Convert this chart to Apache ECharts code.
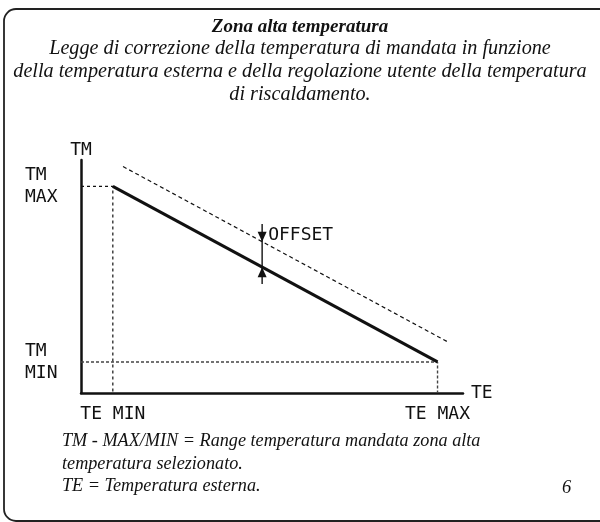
<!DOCTYPE html>
<html>
<head>
<meta charset="utf-8">
<script src="https://cdn.jsdelivr.net/npm/echarts@6/dist/echarts.min.js"></script>
<style>html,body{margin:0;padding:0;background:#fff}#c{width:600px;height:522px}</style>
</head>
<body>
<div id="c"></div>
<script>
// ---- data ----
const teLabels = ['TE MIN', 'TE MAX'];
const teValues = [1, 11.2];
const tmLabels = ['TM\nMAX', 'TM\nMIN'];
const tmValues = [66.5, 10];
const offsetCurve = [[1.32, 72.9], [11.53, 16.4]];
// x, arrow top, arrow bottom, tip on offset curve, tip on main curve
const offsetMarker = [5.69, 54.4, 35.1, 48.7, 40.5];
const offsetLabel = 'OFFSET';
const axisNames = ['TE', 'TM'];
const xRange = [0, 12];
const yRange = [0, 75];

const titleText = 'Zona alta temperatura';
const subText = 'Legge di correzione della temperatura di mandata in funzione\ndella temperatura esterna e della regolazione utente della temperatura\ndi riscaldamento.';
const footText = 'TM - MAX/MIN = Range temperatura mandata zona alta\ntemperatura selezionato.\nTE = Temperatura esterna.';
const pageNo = '6';

// ---- chart ----
const mainCurve = [[teValues[0], tmValues[0]], [teValues[1], tmValues[1]]];
const guideMax = [[xRange[0], tmValues[0]], [teValues[0], tmValues[0]], [teValues[0], yRange[0]]];
const guideMin = [[xRange[0], tmValues[1]], [teValues[1], tmValues[1]], [teValues[1], yRange[0]]];

const sans = 'DejaVu Sans Mono';
const serif = 'Liberation Serif';
const ink = '#111';

const chart = echarts.init(document.getElementById('c'), null, {renderer: 'canvas'});
chart.setOption({
  animation: false,
  backgroundColor: '#fff',
  title: {
    text: titleText,
    subtext: subText,
    left: 'center',
    top: 13,
    itemGap: 0,
    textStyle: {fontFamily: serif, fontStyle: 'italic', fontWeight: 'bold', fontSize: 19, color: ink},
    subtextStyle: {fontFamily: serif, fontStyle: 'italic', fontSize: 20.2, lineHeight: 23, color: ink, align: 'center'}
  },
  grid: {left: 81, right: 137, top: 160, bottom: 129, containLabel: false},
  xAxis: {
    type: 'value', min: xRange[0], max: xRange[1],
    name: axisNames[0], nameLocation: 'end', nameGap: 8,
    nameTextStyle: {fontFamily: sans, fontSize: 18, color: ink, verticalAlign: 'middle'},
    axisLine: {show: true, lineStyle: {color: ink, width: 2.5}},
    axisTick: {show: false},
    splitLine: {show: false},
    axisLabel: {
      customValues: teValues,
      formatter: v => teLabels[teValues.indexOf(v)],
      margin: 12, fontFamily: sans, fontSize: 18, color: ink
    }
  },
  yAxis: {
    type: 'value', min: yRange[0], max: yRange[1],
    name: axisNames[1], nameLocation: 'end', nameGap: 1,
    nameTextStyle: {fontFamily: sans, fontSize: 18, color: ink, align: 'center'},
    axisLine: {show: true, lineStyle: {color: ink, width: 2.5}},
    axisTick: {show: false},
    splitLine: {show: false},
    axisLabel: {
      customValues: tmValues,
      formatter: v => tmLabels[tmValues.indexOf(v)],
      align: 'left', margin: 56, lineHeight: 22,
      fontFamily: sans, fontSize: 18, color: ink
    }
  },
  series: [
    {type: 'line', data: guideMax, symbol: 'none', silent: true,
     lineStyle: {color: ink, width: 1.2, type: [3, 3]}},
    {type: 'line', data: guideMin, symbol: 'none', silent: true,
     lineStyle: {color: '#444', width: 1.4, type: [3, 2]}},
    {type: 'line', data: offsetCurve, symbol: 'none', silent: true,
     lineStyle: {color: ink, width: 1.2, type: [4, 3]}},
    {type: 'line', data: mainCurve, symbol: 'none', silent: true,
     lineStyle: {color: ink, width: 3}},
    {type: 'custom', silent: true, clip: false,
     data: [offsetMarker],
     renderItem: function (params, api) {
       const top = api.coord([api.value(0), api.value(1)]);
       const bot = api.coord([api.value(0), api.value(2)]);
       const tipDown = api.coord([api.value(0), api.value(3)]);
       const tipUp = api.coord([api.value(0), api.value(4)]);
       const hw = 4.5, hh = 10;
       return {type: 'group', children: [
         {type: 'line', shape: {x1: top[0], y1: top[1], x2: bot[0], y2: bot[1]},
          style: {stroke: ink, lineWidth: 1.4}},
         {type: 'polygon', shape: {points: [[tipDown[0], tipDown[1]], [tipDown[0] - hw, tipDown[1] - hh], [tipDown[0] + hw, tipDown[1] - hh]]},
          style: {fill: ink}},
         {type: 'polygon', shape: {points: [[tipUp[0], tipUp[1]], [tipUp[0] - hw, tipUp[1] + hh], [tipUp[0] + hw, tipUp[1] + hh]]},
          style: {fill: ink}},
         {type: 'text', x: top[0] + 6, y: (top[1] + tipDown[1]) / 2 + 2,
          style: {text: offsetLabel, fontFamily: sans, fontSize: 18, fill: ink, verticalAlign: 'middle', align: 'left'}}
       ]};
     }}
  ],
  graphic: [
    {type: 'rect', shape: {x: 4, y: 9, width: 700, height: 512, r: 12},
     style: {fill: 'none', stroke: '#222', lineWidth: 1.8}, silent: true, z: 100},
    {type: 'text', left: 62, top: 430,
     style: {text: footText, fontFamily: serif, fontStyle: 'italic', fontSize: 18.2, lineHeight: 22.5, fill: ink}},
    {type: 'text', left: 562, top: 479,
     style: {text: pageNo, fontFamily: serif, fontStyle: 'italic', fontSize: 18.5, fill: ink}}
  ]
});
</script>
</body>
</html>
